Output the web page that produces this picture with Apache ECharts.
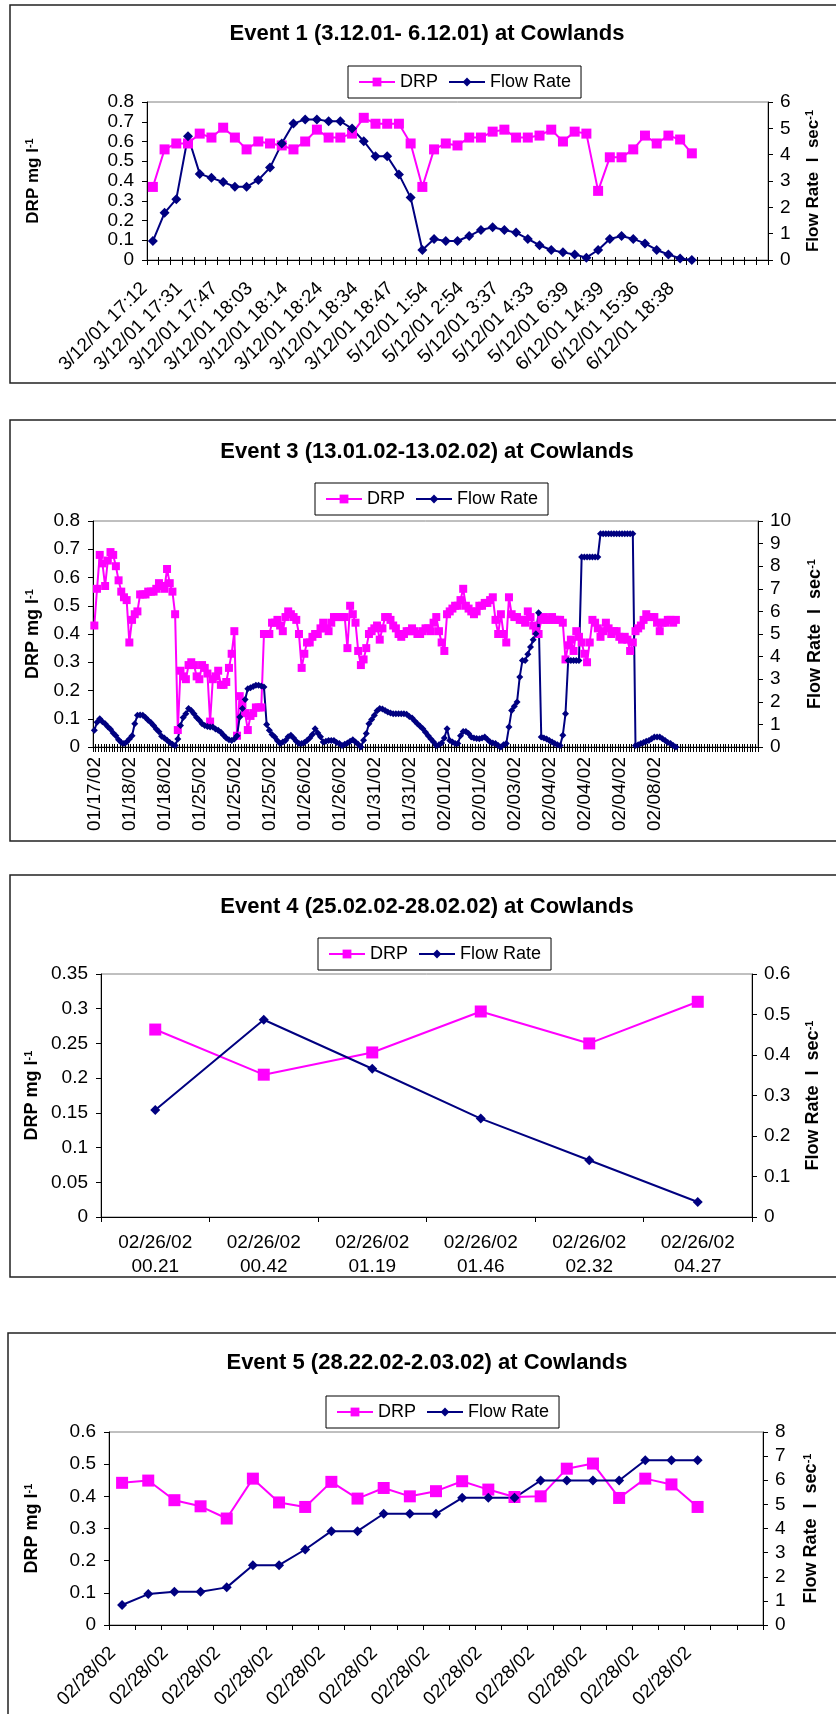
<!DOCTYPE html>
<html><head><meta charset="utf-8">
<script src="https://cdn.jsdelivr.net/npm/echarts@6/dist/echarts.min.js"></script>
<style>html,body{margin:0;padding:0;background:#fff}#c{width:836px;height:1714px}</style>
</head><body><div id="c"></div>
<script>
// ---------- Event 1 ----------
const e1Labels = ['3/12/01 17:12','3/12/01 17:31','3/12/01 17:47','3/12/01 18:03','3/12/01 18:14','3/12/01 18:24','3/12/01 18:34','3/12/01 18:47','5/12/01 1:54','5/12/01 2:54','5/12/01 3:37','5/12/01 4:33','5/12/01 6:39','6/12/01 14:39','6/12/01 15:36','6/12/01 18:38'];
const e1DRP = [0.37,0.56,0.59,0.59,0.64,0.62,0.67,0.62,0.56,0.60,0.59,0.58,0.56,0.60,0.66,0.62,0.62,0.64,0.72,0.69,0.69,0.69,0.59,0.37,0.56,0.59,0.58,0.62,0.62,0.65,0.66,0.62,0.62,0.63,0.66,0.60,0.65,0.64,0.35,0.52,0.52,0.56,0.63,0.59,0.63,0.61,0.54];
const e1Flow = [0.72,1.79,2.31,4.70,3.27,3.12,2.96,2.78,2.78,3.04,3.51,4.42,5.18,5.34,5.34,5.27,5.27,4.99,4.51,3.94,3.94,3.25,2.37,0.38,0.80,0.72,0.72,0.91,1.14,1.24,1.14,1.04,0.80,0.56,0.38,0.29,0.21,0.09,0.38,0.80,0.91,0.80,0.63,0.38,0.21,0.06,0.00];

// ---------- Event 3 ----------
const e3Labels = ['01/17/02','01/18/02','01/18/02','01/25/02','01/25/02','01/25/02','01/26/02','01/26/02','01/31/02','01/31/02','02/01/02','02/01/02','02/03/02','02/04/02','02/04/02','02/04/02','02/08/02'];
const e3DRP = [
0.43,0.56,0.68,0.65,0.57,0.66,0.69,0.68,0.64,0.59,
0.55,0.53,0.52,0.37,0.45,0.47,0.48,0.54,0.54,0.54,
0.55,0.55,0.55,0.56,0.58,0.57,0.56,0.63,0.58,0.55,
0.47,0.06,0.27,0.25,0.24,0.29,0.30,0.29,0.25,0.24,
0.29,0.28,0.26,0.09,0.24,0.25,0.27,0.22,0.22,0.23,
0.28,0.33,0.41,0.04,0.18,0.15,0.12,0.06,0.11,0.12,
0.14,0.14,0.14,0.40,0.40,0.40,0.44,0.44,0.45,0.43,
0.41,0.46,0.48,0.47,0.46,0.45,0.40,0.28,0.33,0.37,
0.37,0.39,0.40,0.40,0.42,0.44,0.42,0.41,0.44,0.46,
0.46,0.46,0.46,0.46,0.35,0.50,0.47,0.44,0.34,0.29,
0.31,0.35,0.40,0.41,0.42,0.43,0.38,0.42,0.46,0.46,
0.45,0.43,0.42,0.40,0.39,0.40,0.41,0.41,0.42,0.41,
0.40,0.40,0.41,0.42,0.42,0.41,0.44,0.46,0.41,0.37,
0.34,0.47,0.48,0.49,0.50,0.50,0.52,0.56,0.50,0.49,
0.48,0.47,0.48,0.50,0.50,0.51,0.51,0.52,0.53,0.45,
0.40,0.47,0.40,0.37,0.53,0.47,0.46,0.46,0.45,0.45,
0.44,0.48,0.46,0.43,0.41,0.40,0.45,0.46,0.45,0.45,
0.46,0.45,0.45,0.45,0.44,0.31,0.36,0.38,0.34,0.41,
0.39,0.37,0.33,0.30,0.37,0.45,0.44,0.42,0.39,0.41,
0.44,0.42,0.40,0.41,0.41,0.39,0.38,0.39,0.38,0.34,
0.37,0.41,0.42,0.43,0.45,0.47,0.46,0.46,0.46,0.44,
0.41,0.44,0.44,0.45,0.45,0.44,0.45];
const e3Flow = [
0.74,1.10,1.25,1.12,1.03,0.90,0.78,0.62,0.50,0.32,
0.20,0.15,0.22,0.35,0.50,1.03,1.40,1.42,1.40,1.30,
1.18,1.08,0.95,0.80,0.68,0.48,0.40,0.30,0.20,0.12,
0.07,0.35,0.95,1.30,1.47,1.70,1.62,1.47,1.30,1.18,
1.03,0.95,0.91,0.88,0.88,0.80,0.74,0.65,0.52,0.40,
0.32,0.29,0.35,0.50,1.33,1.70,2.10,2.58,2.62,2.68,
2.73,2.73,2.70,2.65,1.00,0.74,0.55,0.44,0.28,0.15,
0.22,0.29,0.45,0.52,0.40,0.25,0.15,0.15,0.20,0.29,
0.40,0.55,0.81,0.62,0.45,0.22,0.25,0.29,0.29,0.29,
0.20,0.15,0.07,0.12,0.18,0.25,0.32,0.22,0.12,0.00,
0.30,0.60,1.03,1.22,1.40,1.60,1.70,1.68,1.62,1.55,
1.50,1.47,1.47,1.47,1.47,1.47,1.45,1.35,1.28,1.15,
1.03,0.92,0.81,0.65,0.50,0.35,0.22,0.07,0.10,0.18,
0.40,0.81,0.29,0.22,0.15,0.15,0.50,0.69,0.69,0.60,
0.44,0.40,0.38,0.37,0.40,0.44,0.33,0.22,0.18,0.15,
0.07,0.00,0.10,0.15,0.88,1.62,1.80,1.99,3.10,3.83,
3.83,4.10,4.42,4.75,5.01,5.94,0.44,0.40,0.35,0.29,
0.22,0.15,0.10,0.07,0.52,1.47,3.83,3.83,3.83,3.83,
3.83,8.41,8.41,8.41,8.41,8.41,8.41,8.41,9.44,9.44,
9.44,9.44,9.44,9.44,9.44,9.44,9.44,9.44,9.44,9.44,
9.44,0.07,0.10,0.15,0.20,0.25,0.29,0.36,0.44,0.44,
0.44,0.36,0.29,0.20,0.15,0.07,0.00];

// ---------- Event 4 ----------
const e4Dates = ['02/26/02','02/26/02','02/26/02','02/26/02','02/26/02','02/26/02'];
const e4Times = ['00.21','00.42','01.19','01.46','02.32','04.27'];
const e4DRP = [0.27,0.205,0.237,0.296,0.25,0.31];
const e4Flow = [0.264,0.487,0.366,0.243,0.14,0.037];

// ---------- Event 5 ----------
const e5Labels = ['02/28/02','02/28/02','02/28/02','02/28/02','02/28/02','02/28/02','02/28/02','02/28/02','02/28/02','02/28/02','02/28/02','02/28/02'];
const e5DRP = [0.442,0.449,0.388,0.369,0.331,0.455,0.381,0.367,0.445,0.393,0.426,0.40,0.416,0.447,0.421,0.398,0.40,0.486,0.502,0.395,0.455,0.437,0.367];
const e5Flow = [0.83,1.28,1.38,1.38,1.56,2.48,2.48,3.13,3.89,3.89,4.61,4.61,4.61,5.27,5.27,5.27,5.99,5.99,5.99,5.99,6.83,6.83,6.83];

const FONT = '"Liberation Sans", Arial, sans-serif';
const PINK = '#FF00FF', NAVY = '#000080';

function buildCats(labels, step, count) {
  const out = [];
  for (let i = 0; i < count; i++) {
    out.push(i % step === 0 && labels[i / step] !== undefined ? labels[i / step] : '');
  }
  return out;
}

const panels = [
  { title: 'Event 1 (3.12.01- 6.12.01) at Cowlands', titleY: 34,
    grid: {left:147, top:102, width:621, height:158},
    cats: buildCats(e1Labels, 3, 53), labelInterval: 2, rotate: 45, xMargin: 17, xPad: [0,12,0,0], xFont: 19, crossTicks: true,
    yL: {max:0.8, interval:0.1}, yR: {max:6, interval:1},
    drp: e1DRP, flow: e1Flow, dSize: 10, fSize: 10,
    legend: {left:348, top:66}, box: {x:10, y:5, h:378}, nameL: 33, nameR: 813, nameSize: 17 },
  { title: 'Event 3 (13.01.02-13.02.02) at Cowlands', titleY: 452,
    grid: {left:93, top:521, width:665, height:226},
    cats: buildCats(e3Labels, 13, 247), labelInterval: 12, rotate: 90, xMargin: 10, xPad: 0, xFont: 19, crossTicks: true,
    yL: {max:0.8, interval:0.1}, yR: {max:10, interval:1},
    drp: e3DRP, flow: e3Flow, dSize: 8, fSize: 7,
    legend: {left:315, top:483}, box: {x:10, y:420, h:421}, nameL: 33, nameR: 815, nameSize: 18 },
  { title: 'Event 4 (25.02.02-28.02.02) at Cowlands', titleY: 907,
    grid: {left:101, top:974, width:651, height:243},
    cats: e4Dates.map((d, i) => d + '\n' + e4Times[i]), labelInterval: 0, rotate: 0, xMargin: 14, xPad: 0, xFont: 19, crossTicks: false,
    yL: {max:0.35, interval:0.05}, yR: {max:0.6, interval:0.1},
    drp: e4DRP, flow: e4Flow, dSize: 12, fSize: 10,
    legend: {left:318, top:938}, box: {x:10, y:875, h:402}, nameL: 32, nameR: 813, nameSize: 18 },
  { title: 'Event 5 (28.22.02-2.03.02) at Cowlands', titleY: 1363,
    grid: {left:109, top:1432, width:654, height:193},
    cats: buildCats(e5Labels, 2, 25), labelInterval: 1, rotate: 45, xMargin: 16, xPad: [0,13,0,0], xFont: 19, crossTicks: false,
    yL: {max:0.6, interval:0.1}, yR: {max:8, interval:1},
    drp: e5DRP, flow: e5Flow, dSize: 12, fSize: 10,
    legend: {left:326, top:1396}, box: {x:8, y:1333, h:420}, nameL: 32, nameR: 811, nameSize: 18 }
];

const option = { animation: false, backgroundColor: '#fff',
  grid: [], xAxis: [], yAxis: [], series: [], legend: [], graphic: [] };

panels.forEach((p, k) => {
  option.grid.push(Object.assign({ show: true, borderColor: '#808080', borderWidth: 1,
    backgroundColor: 'transparent', containLabel: false, outerBoundsMode: 'none' }, p.grid));
  const xIndex = option.xAxis.length;
  option.xAxis.push({ type: 'category', gridIndex: k, data: p.cats, boundaryGap: true, position: 'bottom',
    axisLine: { show: true, lineStyle: { color: '#000', width: 1 } },
    axisTick: { show: true, interval: 0, length: 5, lineStyle: { color: '#000' } },
    axisLabel: { interval: p.labelInterval, rotate: p.rotate, margin: p.xMargin, fontSize: p.xFont,
      padding: p.xPad, fontFamily: FONT, color: '#000', lineHeight: 24, hideOverlap: false },
    splitLine: { show: false } });
  if (p.crossTicks) {
    option.xAxis.push({ type: 'category', gridIndex: k, data: p.cats, boundaryGap: true, position: 'bottom',
      axisLine: { show: false }, axisLabel: { show: false }, splitLine: { show: false },
      axisTick: { show: true, inside: true, interval: 0, length: 3, lineStyle: { color: '#000' } } });
  }
  const yBase = (side, cfg) => ({ type: 'value', gridIndex: k, position: side, min: 0,
    max: cfg.max, interval: cfg.interval,
    axisLine: { show: true, lineStyle: { color: '#000', width: 1 } },
    axisTick: { show: true, length: 5, lineStyle: { color: '#000' } },
    axisLabel: { fontSize: 19, fontFamily: FONT, color: '#000', margin: side === 'left' ? 13 : 12 },
    splitLine: { show: false } });
  const yIndex = option.yAxis.length;
  option.yAxis.push(yBase('left', p.yL));
  option.yAxis.push(yBase('right', p.yR));
  option.series.push({ type: 'line', name: 'DRP', xAxisIndex: xIndex, yAxisIndex: yIndex,
    data: p.drp, symbol: 'rect', symbolSize: p.dSize, showAllSymbol: true,
    itemStyle: { color: PINK }, lineStyle: { color: PINK, width: 2 } });
  option.series.push({ type: 'line', name: 'Flow Rate', xAxisIndex: xIndex, yAxisIndex: yIndex + 1,
    data: p.flow, symbol: 'diamond', symbolSize: p.fSize, showAllSymbol: true,
    itemStyle: { color: NAVY }, lineStyle: { color: NAVY, width: 2 } });
  option.legend.push({ left: p.legend.left, top: p.legend.top, orient: 'horizontal',
    padding: [7, 10, 7, 10], itemGap: 10, itemWidth: 36, itemHeight: 11,
    borderColor: '#000', borderWidth: 1, backgroundColor: '#fff', selectedMode: false,
    textStyle: { fontSize: 18, fontFamily: FONT, color: '#000' }, data: ['DRP', 'Flow Rate'] });
  const cy = p.grid.top + p.grid.height / 2;
  option.graphic.push(
    { type: 'rect', silent: true, z: 0, shape: { x: p.box.x, y: p.box.y, width: 900, height: p.box.h },
      style: { fill: 'none', stroke: '#222', lineWidth: 1.5 } },
    { type: 'text', silent: true, x: 427, y: p.titleY,
      style: { text: p.title, fontSize: 22, fontWeight: 'bold', fontFamily: FONT, fill: '#000',
        align: 'center', verticalAlign: 'middle' } },
    { type: 'text', silent: true, x: p.nameL, y: cy, rotation: Math.PI / 2,
      style: { text: '{a|DRP mg l}{s|-1}', align: 'center', verticalAlign: 'middle', fill: '#000',
        rich: { a: { fontSize: p.nameSize, fontWeight: 'bold', fontFamily: FONT },
                s: { fontSize: 11, fontWeight: 'bold', fontFamily: FONT, verticalAlign: 'top' } } } },
    { type: 'text', silent: true, x: p.nameR, y: cy, rotation: Math.PI / 2,
      style: { text: '{a|Flow Rate  l  sec}{s|-1}', align: 'center', verticalAlign: 'middle', fill: '#000',
        rich: { a: { fontSize: p.nameSize, fontWeight: 'bold', fontFamily: FONT },
                s: { fontSize: 11, fontWeight: 'bold', fontFamily: FONT, verticalAlign: 'top' } } } }
  );
});

const chart = echarts.init(document.getElementById('c'), null, { renderer: 'canvas' });
chart.setOption(option);
</script></body></html>
